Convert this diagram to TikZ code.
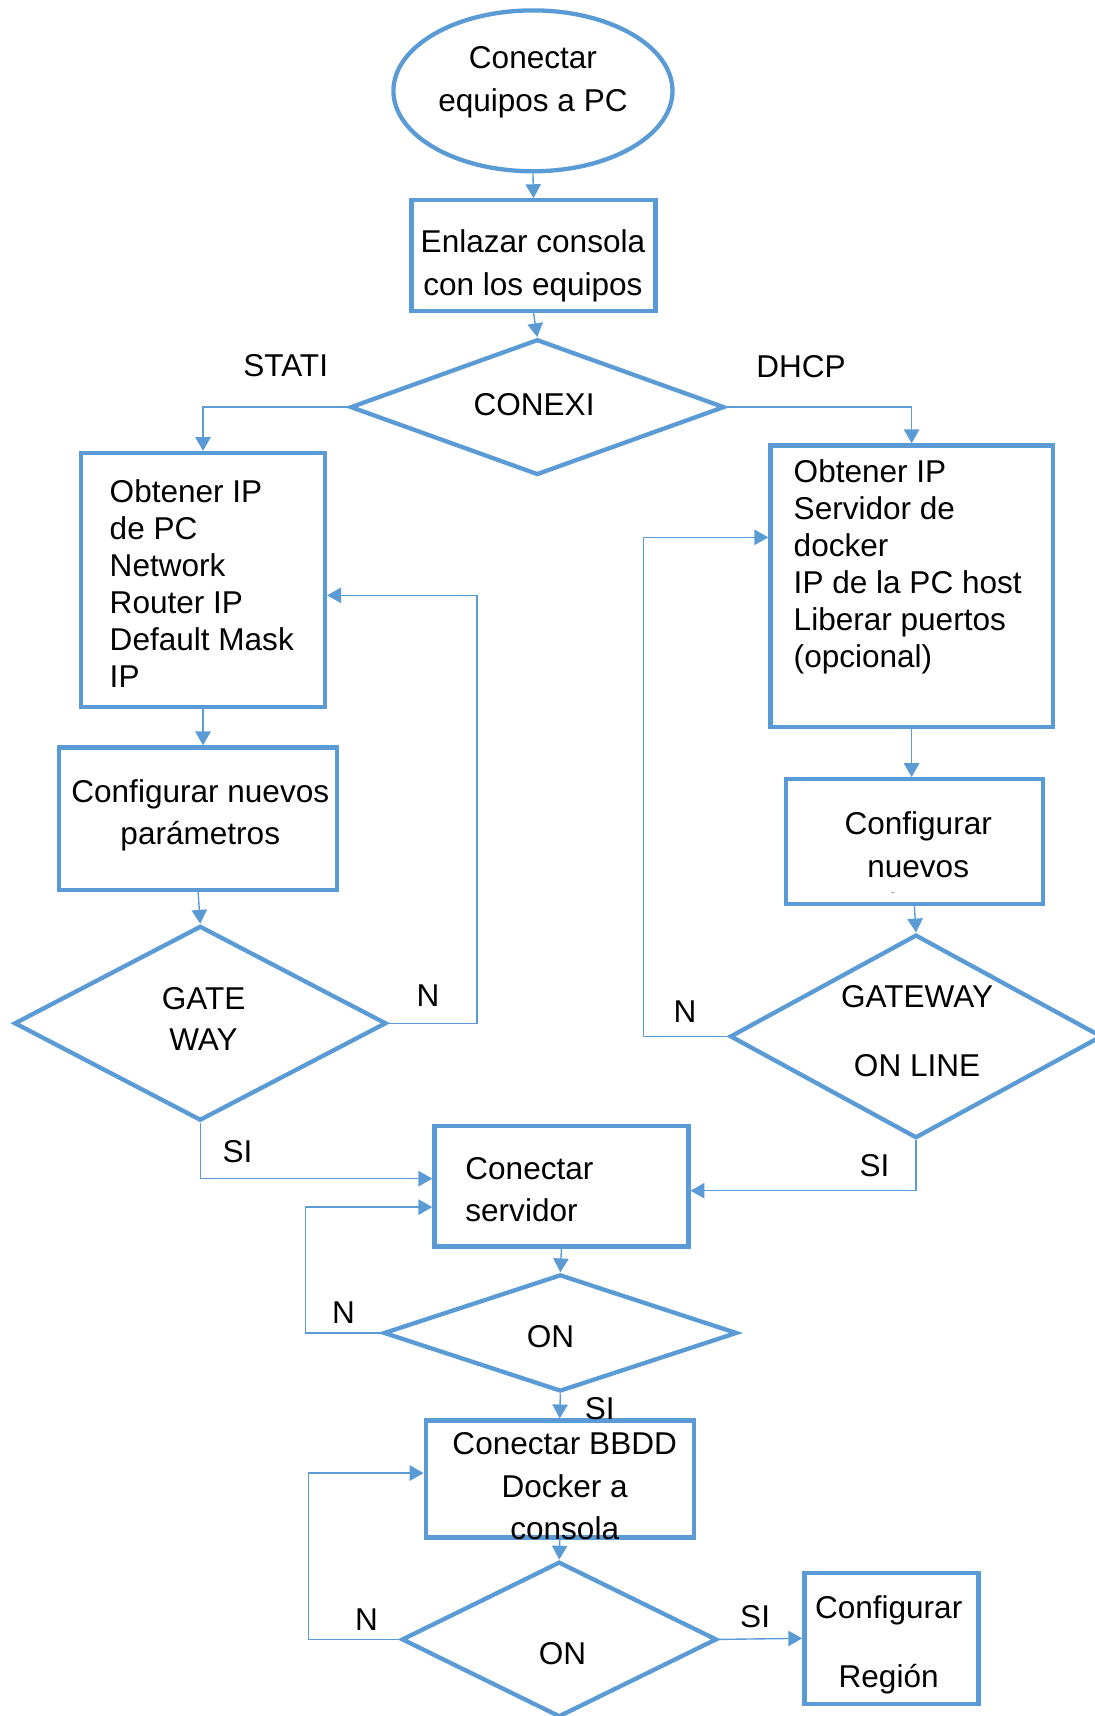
\documentclass[tikz,border=0pt]{standalone}
\usepackage{fontspec}
\setmainfont{Liberation Sans}
\usetikzlibrary{shapes.geometric,arrows.meta,fit}
\definecolor{bl}{RGB}{91,155,213}
% font size 20.5pt with a chosen baseline skip
\newcommand\fsz[1]{\fontsize{20.5pt}{#1}\selectfont}
\tikzset{
  shp/.style={draw=bl, line width=2.8pt, inner sep=0pt},
  boxs/.style={shp, rectangle},
  dia/.style 2 args={shp, diamond, minimum width=#1*0.025cm, minimum height=#2*0.025cm},
  arr/.style={draw=bl, line width=0.9pt, -{Triangle[length=9pt,width=10pt]}},
  txt/.style={inner sep=0pt, align=center, font=\fsz{27.7pt}},
  lbl/.style={inner sep=0pt, font=\fsz{24pt}}
}
\begin{document}
\begin{tikzpicture}[x=0.025cm, y=-0.025cm]
\useasboundingbox (0,0) rectangle (1000,1568);

% ---- shapes ----
\node[shp, ellipse, minimum width=255*0.025cm, minimum height=147*0.025cm] (start) at (487,83) {};
\node[boxs, fit={(376,183) (599,284)}] (link) {};
\node[dia={342}{124}] (conexi) at (491,372) {};
\node[boxs, fit={(74,414) (297,646)}] (obtL) {};
\node[boxs, fit={(54,683) (308,813)}] (cfgL) {};
\node[dia={340}{178}] (gw1) at (183,935) {};
\node[boxs, fit={(704,407) (962,664)}] (obtR) {};
\node[boxs, fit={(718,712) (953,826)}] (cfgR) {};
\node[dia={340}{186}] (gw2) at (837,947) {};
\node[boxs, fit={(397,1029) (629,1139)}] (srv) {};
\node[dia={323}{107}] (on1) at (512,1218) {};
\node[boxs, fit={(389,1298) (634,1405)}] (bbdd) {};
\node[dia={288}{142}] (on2) at (511,1498) {};
\node[boxs, fit={(735,1437) (894,1557)}] (reg) {};

% ---- texts ----
\node[txt] (t-start) at (487,75) {Conectar\\equipos a PC};
\node[txt] (t-link) at (487,243) {Enlazar consola\\con los equipos};
\node[txt] (t-conexi) at (488,370) {CONEXI};
\node[txt, align=left, anchor=west, font=\fsz{24.1pt}] (t-obtL) at (100,533)
  {Obtener IP\\de PC\\Network\\Router IP\\Default Mask\\IP};
\node[txt] (t-cfgL) at (183,745) {Configurar nuevos\\parámetros};
\node[txt, font=\fsz{27pt}] (t-gw1) at (186,931) {GATE\\WAY};
\node[txt, align=left, anchor=west, font=\fsz{24pt}] (t-obtR) at (725,518)
  {Obtener IP\\Servidor de\\docker\\IP de la PC host\\Liberar puertos\\(opcional)};
\node[txt] (t-cfgR) at (839,772) {Configurar\\nuevos};
\node[inner sep=0pt, font=\fontsize{6pt}{7pt}\selectfont, text=black!60] (t-dash) at (816,817) {-};
\node[txt, font=\fsz{44.8pt}] (t-gw2) at (838,942) {GATEWAY\\ON LINE};
\node[txt, align=left, anchor=west, font=\fsz{27pt}] (t-srv) at (425,1087) {Conectar\\servidor};
\node[txt] (t-on1) at (503,1221) {ON};
\node[txt] (t-bbdd) at (516,1358) {Conectar BBDD\\Docker a\\consola};
\node[txt] (t-on2) at (514,1511) {ON};
\node[txt, font=\fsz{44.8pt}] (t-reg) at (812,1503) {Configurar\\Región};

% ---- branch labels ----
\node[lbl] (l-stati) at (261,334) {STATI};
\node[lbl] (l-dhcp) at (732,335) {DHCP};
\node[lbl] (l-n1) at (391,910) {N};
\node[lbl] (l-si1) at (217,1052) {SI};
\node[lbl] (l-n2) at (626,924) {N};
\node[lbl] (l-si2) at (799,1065) {SI};
\node[lbl] (l-n3) at (314,1199) {N};
\node[lbl] (l-si3) at (548,1287) {SI};
\node[lbl] (l-n4) at (335,1480) {N};
\node[lbl] (l-si4) at (690,1477) {SI};

% ---- loop corners ----
\coordinate (nL) at (436,544);
\coordinate (siL) at (183,1077);
\coordinate (nR) at (588,491);
\coordinate (siR) at (837,1088);
\coordinate (n1) at (279,1103);
\coordinate (n2) at (282,1346);

% ---- connectors ----
\draw[arr] (start.south) -- (link.north);
\draw[arr] (link.south) -- (conexi.north);
\draw[arr] (conexi.west) -| (obtL.north);
\draw[arr] (conexi.east) -| (obtR.north);
\draw[arr] (obtL.south) -- (obtL.south |- cfgL.north);
\draw[arr] (cfgL.south) -- (gw1.north);
\draw[arr] (gw1.east) -| (nL) -- (obtL.east |- nL);
\draw[arr] (gw1.south) |- (srv.west |- siL);
\draw[arr] (obtR.south) -- (obtR.south |- cfgR.north);
\draw[arr] (cfgR.south) -- (gw2.north);
\draw[arr] (gw2.west) -| (nR) -- (obtR.west |- nR);
\draw[arr] (gw2.south) |- (srv.east |- siR);
\draw[arr] (srv.south) -- (on1.north);
\draw[arr] (on1.west) -| (n1) -- (srv.west |- n1);
\draw[arr] (on1.south) -- (bbdd.north);
\draw[arr] (bbdd.south) -- (on2.north);
\draw[arr] (on2.west) -| (n2) -- (bbdd.west |- n2);
\draw[arr] (on2.east) -- (reg.west);
\end{tikzpicture}
\end{document}
